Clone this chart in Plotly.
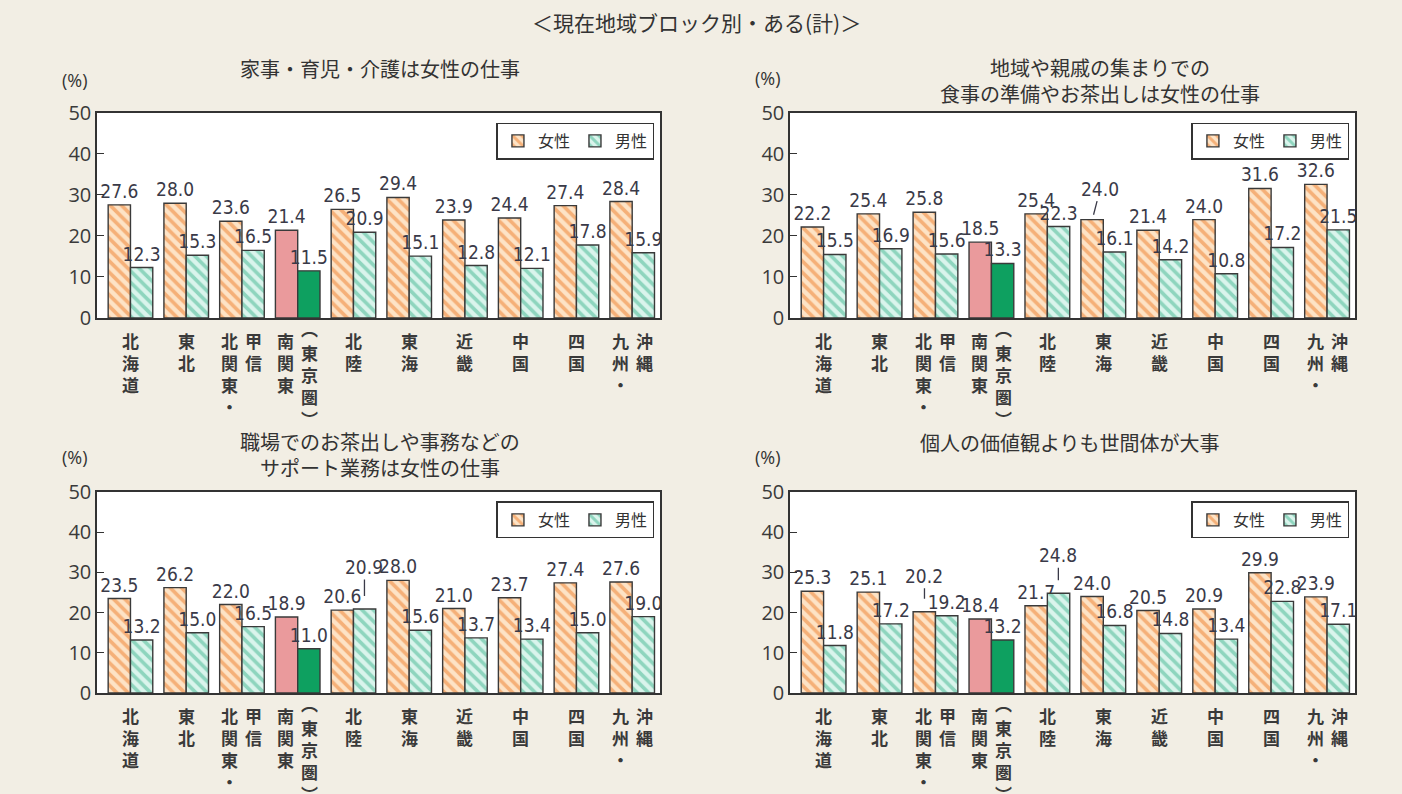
import plotly.graph_objects as go

# ---------------- data ----------------
categories = ["北海道", "東北", "北関東・甲信", "南関東（東京圏）", "北陸",
              "東海", "近畿", "中国", "四国", "九州・沖縄"]
# vertical tick labels: each entry is a list of columns (left -> right)
tick_columns = [["北海道"], ["東北"], ["北関東・", "甲信"], ["南関東", "︵東京圏︶"],
                ["北陸"], ["東海"], ["近畿"], ["中国"], ["四国"], ["九州・", "沖縄"]]
highlight_index = 3

panel_titles = [
    "家事・育児・介護は女性の仕事",
    "地域や親戚の集まりでの<br>食事の準備やお茶出しは女性の仕事",
    "職場でのお茶出しや事務などの<br>サポート業務は女性の仕事",
    "個人の価値観よりも世間体が大事",
]
main_title = "＜現在地域ブロック別・ある(計)＞"
series_names = ["女性", "男性"]

female_1 = [27.6, 28.0, 23.6, 21.4, 26.5, 29.4, 23.9, 24.4, 27.4, 28.4]
male_1 = [12.3, 15.3, 16.5, 11.5, 20.9, 15.1, 12.8, 12.1, 17.8, 15.9]
female_2 = [22.2, 25.4, 25.8, 18.5, 25.4, 24.0, 21.4, 24.0, 31.6, 32.6]
male_2 = [15.5, 16.9, 15.6, 13.3, 22.3, 16.1, 14.2, 10.8, 17.2, 21.5]
female_3 = [23.5, 26.2, 22.0, 18.9, 20.6, 28.0, 21.0, 23.7, 27.4, 27.6]
male_3 = [13.2, 15.0, 16.5, 11.0, 20.9, 15.6, 13.7, 13.4, 15.0, 19.0]
female_4 = [25.3, 25.1, 20.2, 18.4, 21.7, 24.0, 20.5, 20.9, 29.9, 23.9]
male_4 = [11.8, 17.2, 19.2, 13.2, 24.8, 16.8, 14.8, 13.4, 22.8, 17.1]

y_ticks = [0, 10, 20, 30, 40, 50]

panels = [(female_1, male_1), (female_2, male_2), (female_3, male_3), (female_4, male_4)]

# value labels lifted above their bar with a leader line: (panel, series, category)
raised_labels = [(1, 0, 5), (2, 1, 4), (3, 0, 2), (3, 1, 4)]

# ---------------- style ----------------
BG = "#f2eee4"
TXT = "#333333"
JP = "Noto Sans CJK JP"
NUM = "Liberation Sans Narrow, DejaVu Sans Condensed, Noto Sans CJK JP"
LABEL_FONT = dict(family=NUM, size=19, color="#3a3a48")

f_bg, f_fg, f_hl = "#fde3c6", "#f5b078", "#ea9a9c"
m_bg, m_fg, m_hl = "#daf4ec", "#8ed5be", "#0ea060"

x_domains = [(0.0692, 0.4708), (0.5635, 0.9665), (0.0692, 0.4708), (0.5635, 0.9665)]
y_domains = [(0.5995, 0.8577), (0.5995, 0.8577), (0.1272, 0.3804), (0.1272, 0.3804)]
raised_offsets = {(1, 0, 5): (8, -31, 5), (2, 1, 4): (0, -42, 13),
                  (3, 0, 2): (0, -36, 13), (3, 1, 4): (0, -38, 13)}

fig = go.Figure()
idx = list(range(len(categories)))
annotations = []

for p, (fem, mal) in enumerate(panels):
    ax = "" if p == 0 else str(p + 1)
    leg = "legend" if p == 0 else f"legend{p + 1}"
    for s, (vals, bg, fg, hl) in enumerate([(fem, f_bg, f_fg, f_hl), (mal, m_bg, m_fg, m_hl)]):
        # highlighted category: pattern with identical fg/bg -> solid colour
        bgs = [hl if i == highlight_index else bg for i in idx]
        fgs = [hl if i == highlight_index else fg for i in idx]
        texts = ["" if (p, s, i) in raised_labels else f"{v:.1f}" for i, v in enumerate(vals)]
        fig.add_trace(go.Bar(
            x=idx, y=vals, name=series_names[s],
            xaxis="x" + ax, yaxis="y" + ax, legend=leg,
            marker=dict(color=bg, line=dict(color="#3a3a3a", width=1.4),
                        pattern=dict(shape="\\", fillmode="replace", fgcolor=fgs, bgcolor=bgs,
                                     fgopacity=1, size=8, solidity=0.45)),
            text=texts, textposition="outside",
            textfont=LABEL_FONT,
            constraintext="none", cliponaxis=False,
            hoverinfo="skip",
        ))
        for i, v in enumerate(vals):
            if (p, s, i) in raised_labels:
                dx, dy, so = raised_offsets[(p, s, i)]
                annotations.append(dict(
                    x=i, y=v, xref="x" + ax, yref="y" + ax,
                    xshift=-11 if s == 0 else 11,
                    text=f"{v:.1f}", font=LABEL_FONT,
                    showarrow=True, arrowhead=0, arrowwidth=1.3, arrowcolor="#3a3a48",
                    ax=dx, ay=dy, standoff=so, startstandoff=0,
                ))

layout = dict(
    width=1402, height=794,
    paper_bgcolor=BG, plot_bgcolor="white",
    margin=dict(l=0, r=0, t=0, b=0, pad=0, autoexpand=False),
    barmode="group", bargap=0.2, bargroupgap=0.0,
    font=dict(family=JP, color=TXT),
    showlegend=True,
)

CAT_FONT = dict(family=JP, size=17, color="#3a3a3a", weight="bold")
for p in range(4):
    ax = "" if p == 0 else str(p + 1)
    layout["xaxis" + ax] = dict(
        domain=list(x_domains[p]), anchor="y" + ax,
        range=[-0.6, 9.5], showticklabels=False, ticks="",
        showline=True, linecolor="#333333", linewidth=1.5, mirror=True,
        showgrid=False, zeroline=False, fixedrange=True, automargin=False,
    )
    layout["yaxis" + ax] = dict(
        domain=list(y_domains[p]), anchor="x" + ax,
        range=[0, 50], tickvals=y_ticks, ticks="inside", ticklen=7,
        tickcolor="#333333", tickwidth=1.2,
        tickfont=dict(family="Open Sans", size=20, color="#3a3a3a"),
        showline=True, linecolor="#333333", linewidth=1.5, mirror=True,
        showgrid=False, zeroline=False, fixedrange=True, automargin=False,
    )
    leg = "legend" if p == 0 else f"legend{p + 1}"
    layout[leg] = dict(
        x=x_domains[p][1] - 0.004, xanchor="right",
        y=y_domains[p][1] - 0.012, yanchor="top",
        orientation="h", bgcolor="white", bordercolor="#333333", borderwidth=1.5,
        font=dict(family=JP, size=16, color=TXT),
        itemwidth=30, tracegroupgap=0,
    )
    # category labels (vertical, character per line)
    y0 = y_domains[p][0] - 0.01
    for i, cols in enumerate(tick_columns):
        n = len(cols)
        for c, col in enumerate(cols):
            shift = 0 if n == 1 else (-12 if c == 0 else 12)
            base = dict(x=i, xref="x" + ax, y=y0, yref="paper", yanchor="top",
                        xanchor="center", xshift=shift, showarrow=False, font=CAT_FONT)
            if col.startswith("︵") and col.endswith("︶"):
                inner = col[1:-1]
                annotations.append(dict(base, text=col[0], yshift=12))
                annotations.append(dict(base, text="<br>".join(list(inner)), yshift=-12))
                annotations.append(dict(base, text=col[-1], yshift=-12 - 22 * len(inner)))
            else:
                annotations.append(dict(base, text="<br>".join(list(col))))

# titles and units
subtitle_pos = [(0.271, 0.914), (0.7846, 0.898), (0.271, 0.427), (0.763, 0.443)]
unit_pos = [(0.0535, 0.899), (0.548, 0.902), (0.0535, 0.424), (0.548, 0.424)]
for p in range(4):
    annotations.append(dict(
        x=subtitle_pos[p][0], y=subtitle_pos[p][1], xref="paper", yref="paper",
        text=panel_titles[p], showarrow=False, xanchor="center", yanchor="middle",
        font=dict(family=JP, size=20, color=TXT),
    ))
    annotations.append(dict(
        x=unit_pos[p][0], y=unit_pos[p][1], xref="paper", yref="paper",
        text="(%)", showarrow=False, xanchor="center", yanchor="middle",
        font=dict(family="Open Sans", size=18, color=TXT),
    ))
annotations.append(dict(
    x=0.497, y=0.972, xref="paper", yref="paper", text=main_title,
    showarrow=False, xanchor="center", yanchor="middle",
    font=dict(family=JP, size=21, color=TXT),
))
layout["annotations"] = annotations
fig.update_layout(**layout)

page_fix = ("document.body.style.margin='0';"
            "document.body.style.background='" + BG + "';"
            "document.body.style.overflow='hidden';")
fig.write_html("out.html", post_script=page_fix, config={"displayModeBar": False})
